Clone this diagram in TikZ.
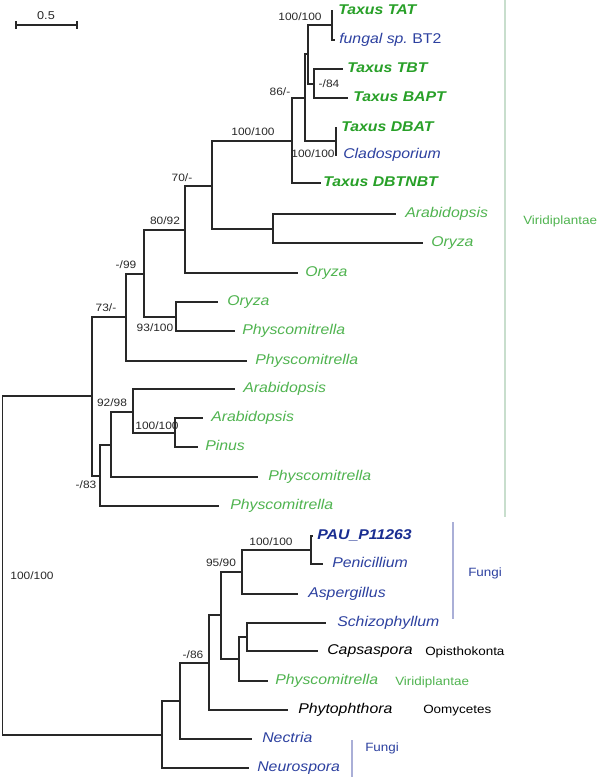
\documentclass[tikz,border=0pt]{standalone}
\usepackage{fontspec}
\setmainfont[FakeStretch=1.12]{Liberation Sans}
\definecolor{tgreen}{RGB}{40,160,40}
\definecolor{lgreen}{RGB}{80,180,80}
\definecolor{fblue}{RGB}{45,65,160}
\definecolor{dblue}{RGB}{25,45,145}
\definecolor{branch}{RGB}{40,40,40}
\definecolor{vline}{RGB}{200,222,205}
\definecolor{fline}{RGB}{170,175,215}
\newcommand\lf[6]{%
  \coordinate (t#1) at (#2,#4);
  \node[leaf,#5] (l#1) at (#3,#4) {#6};}
\begin{document}
\begin{tikzpicture}[x=0.75pt,y=-0.75pt,
  br/.style={draw=branch,line width=0.9pt},
  leaf/.style={anchor=west,inner sep=0pt,text height=5.5pt,text depth=0pt,font=\fontsize{10.6}{12}\selectfont\itshape},
  tx/.style={text=tgreen,font=\fontsize{10.6}{12}\selectfont\bfseries\itshape},
  gr/.style={text=lgreen},
  bl/.style={text=fblue},
  bk/.style={text=black},
  boot/.style={inner sep=0pt,text height=5.7pt,text depth=0pt,text=branch,font=\fontsize{8}{9}\selectfont},
  ann/.style={anchor=west,inner sep=0pt,text height=6.4pt,text depth=0pt,font=\fontsize{9}{10}\selectfont}]
\useasboundingbox[fill=white] (0,0) rectangle (600,778);

% scale bar
\draw[br] (16,25) -- (77,25);
\draw[br] (16,21) -- (16,29);
\draw[br] (77,21) -- (77,29);
\node[boot,font=\fontsize{8.5}{9}\selectfont] (sb) at (46,16) {0.5};

% leaves
\lf{1}{333}{338}{11}{tx}{Taxus TAT}
\lf{2}{335}{339}{40}{bl}{fungal sp.\ \upshape BT2}
\lf{3}{343}{347}{69}{tx}{Taxus TBT}
\lf{4}{348}{353}{98}{tx}{Taxus BAPT}
\lf{5}{337}{341}{128}{tx}{Taxus DBAT}
\lf{6}{337}{343}{155}{bl}{Cladosporium}
\lf{7}{321}{323}{183}{tx}{Taxus DBTNBT}
\lf{8}{396}{405}{214}{gr}{Arabidopsis}
\lf{9}{423}{431}{243}{gr}{Oryza}
\lf{10}{298}{305}{273}{gr}{Oryza}
\lf{11}{218}{227}{302}{gr}{Oryza}
\lf{12}{235}{242}{331}{gr}{Physcomitrella}
\lf{13}{247}{255}{361}{gr}{Physcomitrella}
\lf{14}{235}{243}{389}{gr}{Arabidopsis}
\lf{15}{203}{211}{418}{gr}{Arabidopsis}
\lf{16}{198}{205}{447}{gr}{Pinus}
\lf{17}{258}{268}{477}{gr}{Physcomitrella}
\lf{18}{219}{230}{506}{gr}{Physcomitrella}
\lf{19}{313}{317}{536}{text=dblue,font=\fontsize{10.6}{12}\selectfont\bfseries\itshape}{PAU\_P11263}
\lf{20}{323}{332}{564}{bl}{Penicillium}
\lf{21}{298}{308}{594}{bl}{Aspergillus}
\lf{22}{326}{337}{623}{bl}{Schizophyllum}
\lf{23}{318}{327}{651}{bk}{Capsaspora}
\lf{24}{268}{275}{681}{gr}{Physcomitrella}
\lf{25}{288}{298}{710}{bk}{Phytophthora}
\lf{26}{252}{262}{739}{bl}{Nectria}
\lf{27}{249}{257}{768}{bl}{Neurospora}

% internal nodes
\coordinate (n1) at (332,25);
\coordinate (n2) at (314,84);
\coordinate (n3) at (308,54);
\coordinate (n4) at (336,141);
\coordinate (n5) at (305,98);
\coordinate (n6) at (292,141);
\coordinate (n7) at (273,229);
\coordinate (n8) at (212,186);
\coordinate (n9) at (185,230);
\coordinate (n10) at (176,317);
\coordinate (n11) at (144,274);
\coordinate (n12) at (126,317);
\coordinate (n13) at (175,433);
\coordinate (n14) at (133,412);
\coordinate (n15) at (111,445);
\coordinate (n16) at (100,476);
\coordinate (n17) at (92,396);
\coordinate (n18) at (311,550);
\coordinate (n19) at (242,572);
\coordinate (n20) at (247,637);
\coordinate (n21) at (239,659);
\coordinate (n22) at (221,615);
\coordinate (n23) at (209,663);
\coordinate (n24) at (180,701);
\coordinate (n25) at (162,735);
\coordinate (root) at (2.5,565);

% branches
\draw[br] (n1) |- (t1) (n1) |- (t2);
\draw[br] (n2) |- (t3) (n2) |- (t4);
\draw[br] (n3) |- (n1) (n3) |- (n2);
\draw[br] (n4) |- (t5) (n4) |- (t6);
\draw[br] (n5) |- (n3) (n5) |- (n4);
\draw[br] (n6) |- (n5) (n6) |- (t7);
\draw[br] (n7) |- (t8) (n7) |- (t9);
\draw[br] (n8) |- (n6) (n8) |- (n7);
\draw[br] (n9) |- (n8) (n9) |- (t10);
\draw[br] (n10) |- (t11) (n10) |- (t12);
\draw[br] (n11) |- (n9) (n11) |- (n10);
\draw[br] (n12) |- (n11) (n12) |- (t13);
\draw[br] (n13) |- (t15) (n13) |- (t16);
\draw[br] (n14) |- (t14) (n14) |- (n13);
\draw[br] (n15) |- (n14) (n15) |- (t17);
\draw[br] (n16) |- (n15) (n16) |- (t18);
\draw[br] (n17) |- (n12) (n17) |- (n16);
\draw[br] (n18) |- (t19) (n18) |- (t20);
\draw[br] (n19) |- (n18) (n19) |- (t21);
\draw[br] (n20) |- (t22) (n20) |- (t23);
\draw[br] (n21) |- (n20) (n21) |- (t24);
\draw[br] (n22) |- (n19) (n22) |- (n21);
\draw[br] (n23) |- (n22) (n23) |- (t25);
\draw[br] (n24) |- (n23) (n24) |- (t26);
\draw[br] (n25) |- (n24) (n25) |- (t27);
\draw[br] (root) |- (n17) (root) |- (n25);

% support values
\node[boot] (b1) at (300,17) {100/100};
\node[boot] (b2) at (329,84) {-/84};
\node[boot] (b3) at (280,92) {86/-};
\node[boot] (b4) at (313,154) {100/100};
\node[boot] (b5) at (253,132) {100/100};
\node[boot] (b6) at (182,178) {70/-};
\node[boot] (b7) at (165,221) {80/92};
\node[boot] (b8) at (126,265) {-/99};
\node[boot] (b9) at (155,328) {93/100};
\node[boot] (b10) at (106,308) {73/-};
\node[boot] (b11) at (112,403) {92/98};
\node[boot] (b12) at (157,426) {100/100};
\node[boot] (b13) at (86,485) {-/83};
\node[boot] (b14) at (32,576) {100/100};
\node[boot] (b15) at (271,542) {100/100};
\node[boot] (b16) at (221,563) {95/90};
\node[boot] (b17) at (193,655) {-/86};

% clade annotations
\coordinate (v1) at (505,0);
\coordinate (v2) at (505,517);
\draw[draw=vline,line width=0.9pt] (v1) -- (v2);
\coordinate (f1) at (453,522);
\coordinate (f2) at (453,619);
\draw[draw=fline,line width=0.8pt] (f1) -- (f2);
\coordinate (f3) at (352,740);
\coordinate (f4) at (352,777);
\draw[draw=fline,line width=0.8pt] (f3) -- (f4);
\node[ann,text=lgreen] (a1) at (523,220) {Viridiplantae};
\node[ann,text=fblue] (a2) at (468,572) {Fungi};
\node[ann,text=black] (a3) at (425,651) {Opisthokonta};
\node[ann,text=lgreen] (a4) at (395,681) {Viridiplantae};
\node[ann,text=black] (a5) at (423,709) {Oomycetes};
\node[ann,text=fblue] (a6) at (365,747) {Fungi};
\end{tikzpicture}
\end{document}
